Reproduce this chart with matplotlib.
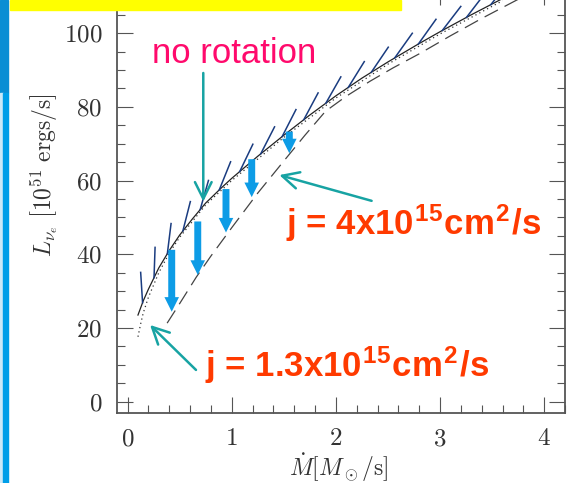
import numpy as np
import matplotlib
matplotlib.use("Agg")
import matplotlib.pyplot as plt
from matplotlib import patheffects
from matplotlib.patches import Rectangle
from matplotlib.ticker import MultipleLocator

plt.rcParams['font.family'] = 'serif'
plt.rcParams['font.serif'] = ['cmr10']
plt.rcParams['mathtext.fontset'] = 'cm'
plt.rcParams['axes.formatter.use_mathtext'] = True

# critical luminosity, no rotation (hatched curve)
mdot_norot = [0.10, 0.15, 0.20, 0.30, 0.40, 0.50, 0.62, 0.75, 0.90, 1.00, 1.25, 1.50,
              1.75, 2.00, 2.25, 2.50, 2.80, 3.00, 3.30, 3.60]
lum_norot = [23.5, 27.3, 30.5, 36.3, 41.0, 45.2, 49.5, 53.9, 58.0, 60.6, 66.6, 72.3,
             77.8, 83.0, 87.8, 92.2, 97.2, 100.4, 105.0, 109.4]

# j = 1.3e15 cm^2/s (dotted)
mdot_j13 = [0.10, 0.125, 0.15, 0.20, 0.30, 0.40, 0.50, 0.75, 1.00, 1.50, 2.00, 2.50, 3.00, 3.60]
lum_j13 = [17.6, 21.0, 24.0, 28.3, 35.0, 40.3, 44.6, 53.4, 60.0, 71.7, 82.4, 91.6, 99.8, 108.8]

# j = 4e15 cm^2/s (dashed)
mdot_j4 = [0.38, 0.50, 0.66, 0.80, 1.00, 1.25, 1.50, 1.70, 1.90, 2.10, 2.33, 2.55, 2.80,
           3.10, 3.40, 3.75]
lum_j4 = [21.3, 26.6, 33.8, 39.5, 47.2, 56.6, 65.3, 72.2, 78.8, 82.9, 87.0, 90.6, 94.4,
          99.3, 104.0, 109.2]

# drop of the critical luminosity due to rotation
drop_mdot = [0.424, 0.674, 0.945, 1.192, 1.553]
drop_from = [41.2, 48.9, 57.7, 65.8, 73.3]
drop_to = [24.4, 34.4, 45.9, 55.5, 67.4]

teal = '#17a3a3'
blue = '#0d9ce6'
navy = '#1a3c80'
red = '#ff3a00'

fig = plt.figure(figsize=(5.73, 4.83), dpi=100)

# slide decorations along the left and top edges
fig.patches.append(Rectangle((0, 1 - 93 / 483), 8 / 573, 93 / 483,
                             transform=fig.transFigure, color='#0a8ed4', zorder=0))
fig.patches.append(Rectangle((0, 0), 3.3 / 573, 1 - 93 / 483,
                             transform=fig.transFigure, color='#cde9f8', zorder=0))
fig.patches.append(Rectangle((3.3 / 573, 0), 5 / 573, 1 - 93 / 483,
                             transform=fig.transFigure, color='#009ee8', zorder=0))
fig.patches.append(Rectangle((10 / 573, 1 - 10 / 483), 391 / 573, 10 / 483,
                             transform=fig.transFigure, color='#ffff00', zorder=0))

ax = fig.add_axes([0.2037, 0.1456, 0.7824, 0.8772])
ax.set_xlim(-0.104, 4.2)
ax.set_ylim(-3, 112)

ax.plot(mdot_norot, lum_norot, color='#222222', lw=0.9)
# hatching on the no-rotation curve (ticks only, the curve itself is drawn above)
ax.plot(mdot_norot, lum_norot, color=navy, lw=1.1,
        path_effects=[patheffects.TickedStroke(spacing=19, angle=24, length=1.15)])
ax.plot(mdot_j13, lum_j13, color='#333333', lw=0.9, ls=(0, (1, 2.5)))
ax.plot(mdot_j4, lum_j4, color='#444444', lw=0.9, ls=(0, (12, 6)))

for x, y0, y1 in zip(drop_mdot, drop_from, drop_to):
    ax.annotate('', xy=(x, y1), xytext=(x, y0),
                arrowprops=dict(arrowstyle='simple,head_length=1.05,head_width=1.05,tail_width=0.5',
                                fc=blue, ec='none', shrinkA=0, shrinkB=0, mutation_scale=10))

ax.text(1.025, 92.0, 'no rotation', color='#ff0a6c', fontsize=25,
        family='Liberation Sans', ha='center', va='baseline')
ax.annotate('', xy=(0.727, 54.3), xytext=(0.727, 89.2),
            arrowprops=dict(arrowstyle='->,head_length=1.2,head_width=0.6', color=teal,
                            lw=1.8, shrinkA=0, shrinkB=0, mutation_scale=10))

ax.text(2.745, 45.2, r'j = 4x10$^{\mathregular{15}}$cm$^{\mathregular{2}}$/s', color=red,
        fontsize=25, fontweight='bold', family='Liberation Sans', ha='center', va='baseline')
ax.annotate('', xy=(1.457, 61.5), xytext=(2.343, 54.5),
            arrowprops=dict(arrowstyle='->,head_length=1.2,head_width=0.6', color=teal,
                            lw=1.8, shrinkA=0, shrinkB=0, mutation_scale=10))

ax.text(2.107, 6.8, r'j = 1.3x10$^{\mathregular{15}}$cm$^{\mathregular{2}}$/s', color=red,
        fontsize=25, fontweight='bold', family='Liberation Sans', ha='center', va='baseline')
ax.annotate('', xy=(0.216, 20.8), xytext=(0.657, 8.6),
            arrowprops=dict(arrowstyle='->,head_length=1.2,head_width=0.6', color=teal,
                            lw=1.8, shrinkA=0, shrinkB=0, mutation_scale=10))

ax.xaxis.set_major_locator(MultipleLocator(1))
ax.xaxis.set_minor_locator(MultipleLocator(0.2))
ax.yaxis.set_major_locator(MultipleLocator(20))
ax.yaxis.set_minor_locator(MultipleLocator(5))
ax.tick_params(which='both', direction='in', top=True, right=True, width=0.8,
               color='#555555', labelcolor='#333333', labelsize=18)
ax.tick_params(which='major', length=11.5)
ax.tick_params(which='minor', length=6)
ax.tick_params(axis='y', pad=10.5)
ax.tick_params(axis='x', pad=11)
for sp in ax.spines.values():
    sp.set_color('#555555')
    sp.set_linewidth(1.3)

ax.set_ylabel(r'$L_{\nu_e}\ \left[10^{51}\ \mathrm{ergs/s}\right]$', fontsize=17, color='#333333')
ax.yaxis.set_label_coords(-0.125, 0.56)
ax.set_xlabel(r'$\dot{M}\left[M_\odot/\mathrm{s}\right]$', fontsize=17, color='#333333')
ax.xaxis.set_label_coords(0.495, -0.09)

fig.savefig('out.png', dpi=100)
